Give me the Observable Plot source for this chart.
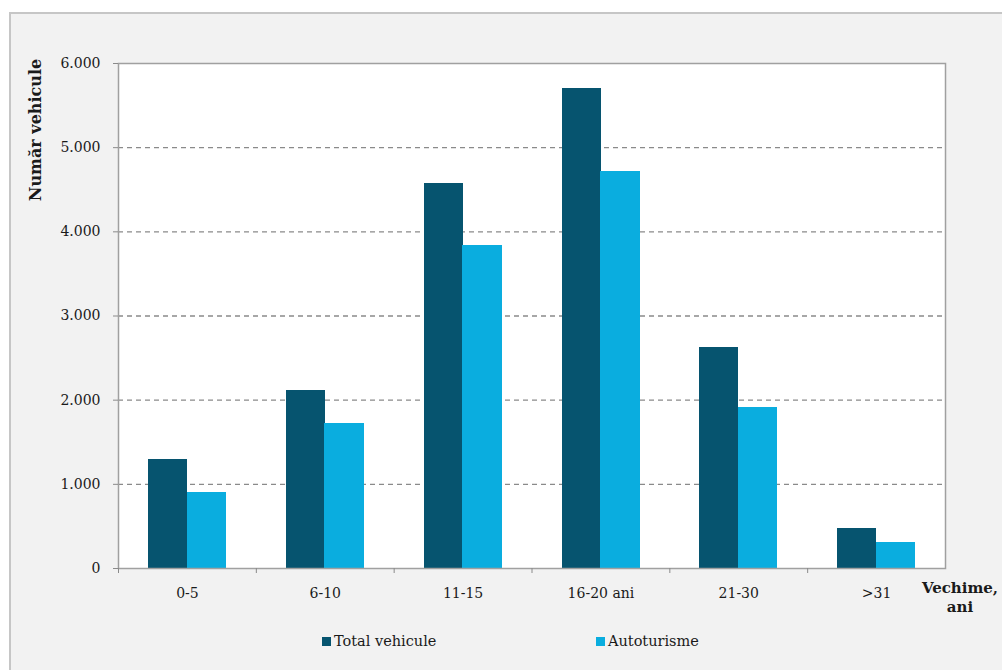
<!DOCTYPE html>
<html>
<head>
<meta charset="utf-8">
<script src="https://cdn.jsdelivr.net/npm/d3@7"></script>
<script src="https://cdn.jsdelivr.net/npm/@observablehq/plot@0.6"></script>
<style>
  html, body { margin: 0; padding: 0; background: #ffffff; }
  #wrap { position: relative; width: 1002px; height: 670px; overflow: hidden; font-family: "DejaVu Serif", serif; }
  #box { position: absolute; left: 9px; top: 12px; width: 1100px; height: 800px; background: #f2f2f2; border: 2px solid #c6c6c6; box-sizing: border-box; }
  #chart { position: absolute; left: 0; top: 0; }
  #ylabel { position: absolute; left: 35px; top: 130px; transform: translate(-50%, -50%) rotate(-90deg); white-space: nowrap; font-weight: bold; font-size: 16px; color: #1a1a1a; }
  #xlabel { position: absolute; left: 960px; top: 598px; transform: translate(-50%, -50%); text-align: center; font-weight: bold; font-size: 15px; line-height: 19px; color: #1a1a1a; }
  #legend { position: absolute; top: 633px; left: 0; width: 1002px; height: 20px; font-size: 14.5px; color: #1a1a1a; }
  .item { position: absolute; display: flex; align-items: center; gap: 3px; }
  .sw { width: 9px; height: 9px; display: inline-block; }
</style>
</head>
<body>
<div id="wrap">
  <div id="box"></div>
  <div id="chart"></div>
  <div id="ylabel">Număr vehicule</div>
  <div id="xlabel">Vechime,<br>ani</div>
  <div id="legend"></div>
</div>
<script>
const categories = ["0-5", "6-10", "11-15", "16-20 ani", "21-30", ">31"];
const seriesNames = ["Total vehicule", "Autoturisme"];
const totalVehicule = [1300, 2120, 4580, 5700, 2620, 475];
const autoturisme = [905, 1725, 3840, 4720, 1910, 310];
const yTicks = [0, 1000, 2000, 3000, 4000, 5000, 6000];
const gridTicks = [1000, 2000, 3000, 4000, 5000];
const colors = ["#06546f", "#0aaddf"];

const fmt = d3.formatLocale({decimal: ",", thousands: ".", grouping: [3], currency: ["", ""]}).format(",");

const totalData = categories.map((c, i) => ({cat: c, value: totalVehicule[i]}));
const autoData = categories.map((c, i) => ({cat: c, value: autoturisme[i]}));

const W = 1002, H = 625;
const mL = 118, mR = 57, mT = 63, mB = 57;
const band = (W - mL - mR) / categories.length;

const chart = Plot.plot({
  width: W, height: H,
  marginLeft: mL, marginRight: mR, marginTop: mT, marginBottom: mB,
  style: {fontFamily: "DejaVu Serif, serif", fontSize: "14px", background: "transparent", color: "#1a1a1a", overflow: "visible"},
  x: {domain: categories, padding: 0, round: false, label: null},
  y: {domain: [0, 6000], label: null},
  marks: [
    Plot.frame({fill: "white", stroke: null}),
    Plot.ruleY(gridTicks, {stroke: "#8a8a8a", strokeWidth: 1.3, strokeDasharray: "5,4"}),
    Plot.barY(totalData, {x: "cat", y: "value", fill: colors[0], insetLeft: 30, insetRight: band - 30 - 39, shapeRendering: "crispEdges"}),
    Plot.barY(autoData, {x: "cat", y: "value", fill: colors[1], insetLeft: 30 + 38.5, insetRight: band - 30 - 38.5 - 39.5, shapeRendering: "crispEdges"}),
    Plot.frame({stroke: "#a0a0a0", strokeWidth: 1.5}),
    Plot.axisY({ticks: yTicks, tickSize: 5, tickPadding: 13, tickFormat: fmt, stroke: "#8a8a8a", fill: "#1a1a1a", fontSize: 14, label: null}),
    Plot.axisX({tickSize: 0, tickPadding: 20, fill: "#1a1a1a", fontSize: 14, label: null}),
    Plot.axisX({tickSize: 5, tickFormat: () => "", dx: -band / 2, stroke: "#8a8a8a", label: null})
  ]
});
document.getElementById("chart").append(chart);

const legend = document.getElementById("legend");
const legendX = [322, 596];
seriesNames.forEach((name, i) => {
  const it = document.createElement("div");
  it.className = "item";
  it.style.left = legendX[i] + "px";
  it.innerHTML = `<span class="sw" style="background:${colors[i]}"></span><span>${name}</span>`;
  legend.append(it);
});
</script>
</body>
</html>
